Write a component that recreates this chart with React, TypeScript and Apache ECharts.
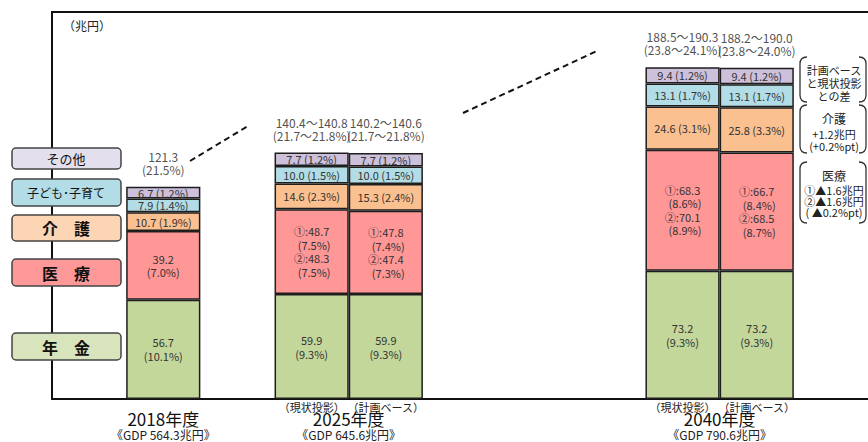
import { useEffect, useRef } from "react";
import * as echarts from "echarts";

// ---- data ----
const categories = ["", "2018", "", "2025a", "2025b", "", "", "", "2040a", "2040b", ""];
const barSlots = [1, 3, 4, 8, 9];
const pension = [56.7, 59.9, 59.9, 73.2, 73.2];
const medical = [39.2, 48.5, 47.6, 69.2, 67.6];
const care = [10.7, 14.6, 15.3, 24.6, 25.8];
const child = [7.9, 10.0, 10.0, 13.1, 13.1];
const other = [6.7, 7.7, 7.7, 9.4, 9.4];

const pensionLabels = ["56.7\n(10.1%)", "59.9\n(9.3%)", "59.9\n(9.3%)", "73.2\n(9.3%)", "73.2\n(9.3%)"];
const medicalLabels = [
  "39.2\n(7.0%)",
  "①:48.7\n  (7.5%)\n②:48.3\n  (7.5%)",
  "①:47.8\n  (7.4%)\n②:47.4\n  (7.3%)",
  "①:68.3\n  (8.6%)\n②:70.1\n  (8.9%)",
  "①:66.7\n  (8.4%)\n②:68.5\n  (8.7%)",
];
const careLabels = ["10.7 (1.9%)", "14.6 (2.3%)", "15.3 (2.4%)", "24.6 (3.1%)", "25.8 (3.3%)"];
const childLabels = ["7.9 (1.4%)", "10.0 (1.5%)", "10.0 (1.5%)", "13.1 (1.7%)", "13.1 (1.7%)"];
const otherLabels = ["6.7 (1.2%)", "7.7 (1.2%)", "7.7 (1.2%)", "9.4 (1.2%)", "9.4 (1.2%)"];
const totalLabels = [
  "121.3\n(21.5%)",
  "140.4～140.8\n(21.7～21.8%)",
  "140.2～140.6\n(21.7～21.8%)",
  "188.5～190.3\n(23.8～24.1%)",
  "188.2～190.0\n(23.8～24.0%)",
];
const yearLabels = ["2018年度", "2025年度", "2040年度"];
const gdpLabels = ["《GDP 564.3兆円》", "《GDP 645.6兆円》", "《GDP 790.6兆円》"];
const yearSlots = [[1], [3, 4], [8, 9]];
const scenarioLabels = ["（現状投影）", "（計画ベース）"];
const scenarioSlots = [[3, 8], [4, 9]];
const seriesNames = ["年金", "医療", "介護", "子ども・子育て", "その他"];
const legendTexts = ["年　金", "医　療", "介　護", "子ども･子育て", "その他"];
const unitLabel = "（兆円）";
const noteGroups = [
  ["計画ベース", "と現状投影", "との差"],
  ["介護", "+1.2兆円", "(+0.2%pt)"],
  ["医療", "①▲1.6兆円", "②▲1.6兆円", "( ▲0.2%pt)"],
];

// ---- styles ----
const FONT = "'Noto Sans CJK JP', 'Noto Sans', sans-serif";
const barColors = ["#c4d79b", "#ff9797", "#fac090", "#b2dde6", "#ccc0da"];
const legendColors = ["#d8e4bc", "#ff9999", "#fcd5b4", "#b2dde6", "#e4dfec"];
const legendBoxes = [
  { y: 333, h: 27, size: 16 },
  { y: 259, h: 27, size: 16 },
  { y: 215, h: 26, size: 16 },
  { y: 179, h: 27, size: 12 },
  { y: 148, h: 21, size: 13 },
];
const noteBrackets = [
  { y1: 57, y2: 102, lines: [70, 83, 96], sizes: [11, 11, 11] },
  { y1: 105, y2: 153, lines: [118, 134, 146], sizes: [12, 11, 11] },
  { y1: 162, y2: 223, lines: [175, 190, 201, 212], sizes: [12, 11, 11, 11] },
];

function bracketPath(x1: number, x2: number, y1: number, y2: number) {
  const r = 7;
  return (
    `M${x1 + r},${y1} Q${x1},${y1} ${x1},${y1 + r} L${x1},${y2 - r} Q${x1},${y2} ${x1 + r},${y2} ` +
    `M${x2 - r},${y1} Q${x2},${y1} ${x2},${y1 + r} L${x2},${y2 - r} Q${x2},${y2} ${x2 - r},${y2}`
  );
}
const bracketD = noteBrackets.map((b) => bracketPath(800, 866, b.y1, b.y2)).join(" ");
echarts.graphic.registerShape("noteBrackets", echarts.graphic.extendPath(bracketD, {}));

function slotData(vals: number[]) {
  return categories.map((_, i) => {
    const k = barSlots.indexOf(i);
    return k < 0 ? "-" : vals[k];
  });
}

export default function App() {
  const ref = useRef<HTMLDivElement>(null);
  useEffect(() => {
    document.body.style.margin = "0";
    if (!ref.current) return;
    const chart = echarts.init(ref.current, undefined, { renderer: "svg" });
    const valueSets = [pension, medical, care, child, other];
    const labelSets = [pensionLabels, medicalLabels, careLabels, childLabels, otherLabels];
    const totals = barSlots.map((_, k) => valueSets.reduce((s, v) => s + v[k], 0));

    const barSeries = valueSets.map((vals, si) => ({
      name: seriesNames[si],
      type: "bar",
      stack: "total",
      barWidth: "100%",
      data: slotData(vals),
      itemStyle: { color: barColors[si], borderColor: "#1e1e1e", borderWidth: 1.5 },
      label: {
        show: true,
        position: "inside",
        fontSize: 11,
        lineHeight: si === 1 ? 13.5 : si >= 2 ? 11 : 14,
        color: "#333",
        fontFamily: FONT,
        formatter: (p: any) => labelSets[si][barSlots.indexOf(p.dataIndex)],
      },
    }));

    chart.setOption({
      animation: false,
      textStyle: { fontFamily: FONT },
      grid: { left: 52, top: 12, width: 819, height: 387 },
      xAxis: {
        type: "category",
        data: categories,
        axisLine: { lineStyle: { color: "#111", width: 2 } },
        axisTick: { show: false },
        axisLabel: { show: false },
      },
      yAxis: {
        type: "value",
        min: 0,
        max: 221,
        axisLine: { show: true, lineStyle: { color: "#111", width: 2 } },
        axisTick: { show: false },
        axisLabel: { show: false },
        splitLine: { show: false },
      },
      series: [
        ...barSeries,
        {
          type: "scatter",
          symbolSize: 0.01,
          itemStyle: { color: "rgba(0,0,0,0)" },
          data: categories.map((_, i) => {
            const k = barSlots.indexOf(i);
            return k < 0 ? "-" : totals[k];
          }),
          label: {
            show: true,
            position: "top",
            distance: 11,
            fontSize: 12,
            lineHeight: 13,
            color: "#222",
            fontFamily: FONT,
            formatter: (p: any) => totalLabels[barSlots.indexOf(p.dataIndex)],
          },
          z: 5,
        },
      ],
    });

    const px = (i: number) => chart.convertToPixel({ xAxisIndex: 0 }, i) as number;
    const graphics: any[] = [];
    graphics.push({ type: "line", shape: { x1: 51, y1: 12, x2: 868, y2: 12 }, style: { stroke: "#111", lineWidth: 2 } });
    graphics.push({ type: "text", x: 63, y: 25, style: { text: unitLabel, fill: "#222", font: `12px ${FONT}`, textVerticalAlign: "middle" } });
    legendBoxes.forEach((b, i) => {
      graphics.push({
        type: "rect",
        z: 100,
        shape: { x: 12, y: b.y, width: 109, height: b.h, r: 4 },
        style: { fill: legendColors[i], stroke: "#444", lineWidth: 1.5 },
      });
      graphics.push({
        type: "text",
        z: 101,
        x: 66,
        y: b.y + b.h / 2,
        style: {
          text: legendTexts[i],
          font: `${b.size >= 16 ? "bold " : ""}${b.size}px ${FONT}`,
          fill: "#111",
          textAlign: "center",
          textVerticalAlign: "middle",
        },
      });
    });
    // dashed connectors
    graphics.push({ type: "line", shape: { x1: 190, y1: 161, x2: 248, y2: 126 }, style: { stroke: "#111", lineWidth: 2, lineDash: [6, 4] } });
    graphics.push({ type: "line", shape: { x1: 463, y1: 113, x2: 597, y2: 51 }, style: { stroke: "#111", lineWidth: 2, lineDash: [6, 4] } });
    // scenario labels
    scenarioSlots.forEach((slots, si) => {
      slots.forEach((s) => {
        graphics.push({
          type: "text",
          x: px(s),
          y: 407,
          style: { text: scenarioLabels[si], font: `11px ${FONT}`, fill: "#222", textAlign: "center", textVerticalAlign: "middle" },
        });
      });
    });
    // year / GDP labels
    yearSlots.forEach((slots, yi) => {
      const cx = slots.reduce((s, v) => s + px(v), 0) / slots.length;
      graphics.push({
        type: "text",
        x: cx,
        y: 418,
        style: { text: yearLabels[yi], font: `17px ${FONT}`, fill: "#111", textAlign: "center", textVerticalAlign: "middle" },
      });
      graphics.push({
        type: "text",
        x: cx,
        y: 434,
        style: { text: gdpLabels[yi], font: `12px ${FONT}`, fill: "#222", textAlign: "center", textVerticalAlign: "middle" },
      });
    });
    // right notes
    graphics.push({ type: "noteBrackets", style: { fill: "none", stroke: "#333", lineWidth: 1.3 } });
    noteGroups.forEach((lines, gi) => {
      lines.forEach((t, li) => {
        graphics.push({
          type: "text",
          x: 834,
          y: noteBrackets[gi].lines[li],
          style: {
            text: t,
            font: `${noteBrackets[gi].sizes[li]}px ${FONT}`,
            fill: "#222",
            textAlign: "center",
            textVerticalAlign: "middle",
          },
        });
      });
    });
    chart.setOption({ graphic: graphics });

    return () => chart.dispose();
  }, []);
  return <div ref={ref} style={{ width: 868, height: 442 }} />;
}
